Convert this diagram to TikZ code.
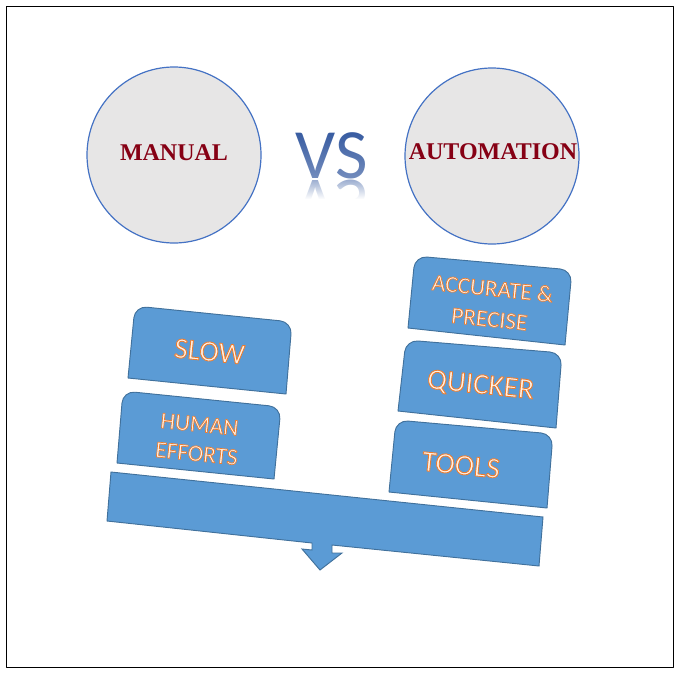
\documentclass[tikz,border=0pt]{standalone}
\usepackage{fontspec}
\setmainfont{Carlito}
\newfontfamily\serifbold{Liberation Serif}[Scale=1.0]
\usetikzlibrary{fadings}
\definecolor{boxblue}{HTML}{5B9BD5}
\definecolor{boxline}{HTML}{41719C}
\definecolor{roundfill}{HTML}{E7E6E6}
\definecolor{roundline}{HTML}{4472C4}
\definecolor{headred}{HTML}{860014}
\definecolor{vsblue}{HTML}{33589F}
\tikzfading[name=vsmainfade,top color=transparent!100,bottom color=transparent!68]
\tikzfading[name=vsmirrorfade,top color=transparent!50,bottom color=transparent!0]
\newcommand{\glowtext}[1]{{\addfontfeature{FakeBold=3}\special{pdf:bcolor [1 0.95 0.9] [0.93 0.49 0.19]}#1\special{pdf:ecolor}}}
\tikzset{
  roundhead/.style={line width=0.9pt,color=roundline,fill=roundfill},
  plate/.style={line width=0.7pt,color=boxline,fill=boxblue},
  beam/.style={line width=0.7pt,color=boxline,fill=boxblue,line join=miter},
  headlabel/.style={color=headred,font=\serifbold\bfseries\fontsize{18}{20}\selectfont},
  platelabel/.style={rotate=-5.8,align=center,inner sep=0pt},
  vslabel/.style={color=vsblue,font=\fontsize{53}{55}\selectfont,inner sep=0pt,anchor=base}
}
\begin{document}
\begin{tikzpicture}[line cap=round,line join=round,x=0.75pt,y=-0.75pt]
\useasboundingbox (0,0) rectangle (680,675);
\draw [line width=0.7pt,color=black] (6,6) rectangle (673,667);
% heads
\draw [roundhead] (174,155) ellipse (87 and 88);
\draw [roundhead] (492,156) ellipse (87 and 88);
\node [headlabel] (manual) at (174,153) {MANUAL};
\node [headlabel] (automation) at (493,152) {AUTOMATION};
% vs
\node [vslabel] (vs) at (331.5,178) {VS};
\node [vslabel,yscale=-1,transform shape] (vsmirror) at (331.5,180) {VS};
\fill [white,path fading=vsmainfade] (290,128) rectangle (372,179);
\fill [white,path fading=vsmirrorfade] (290,179) rectangle (372,199);
\fill [white] (290,199) rectangle (372,240);
% left plates
\draw [plate] (128,378) [rounded corners=9pt] -- (135,306) -- (292,322) [sharp corners] -- (286,394) -- cycle;
\draw [plate] (117,463) [rounded corners=9pt] -- (123,391) -- (281,407) [sharp corners] -- (274,479) -- cycle;
\node [platelabel,font=\fontsize{22}{26}\selectfont] (slow) at (209.5,351.5) {\glowtext{SLOW}};
\node [platelabel,font=\fontsize{17.5}{22}\selectfont] (human) at (198,439) {\glowtext{HUMAN}\\\glowtext{EFFORTS}};
% right plates
\draw [plate] (408,328) [rounded corners=9pt] -- (415,256) -- (572,270) [sharp corners] -- (565,345) -- cycle;
\draw [plate] (398,411) [rounded corners=9pt] -- (406,340) -- (562,353) [sharp corners] -- (556,428) -- cycle;
\draw [plate] (389,492) [rounded corners=9pt] -- (396,420) -- (553,434) [sharp corners] -- (547,508) -- cycle;
\node [platelabel,font=\fontsize{17.5}{23}\selectfont] (accurate) at (491,303.5) {\glowtext{ACCURATE \&}\\\glowtext{PRECISE}};
\node [platelabel,font=\fontsize{22}{26}\selectfont] (quicker) at (480.5,386) {\glowtext{QUICKER}};
\node [platelabel,font=\fontsize{22}{26}\selectfont] (tools) at (461,465) {\glowtext{TOOLS}};
% beam with its arrow
\draw [beam] (111,472) -- (543,517) -- (539,566) -- (332,545) -- (332,553) -- (342,553) -- (320,570) -- (302,549) -- (312,550) -- (312,543) -- (107,521) -- cycle;
\end{tikzpicture}
\end{document}
